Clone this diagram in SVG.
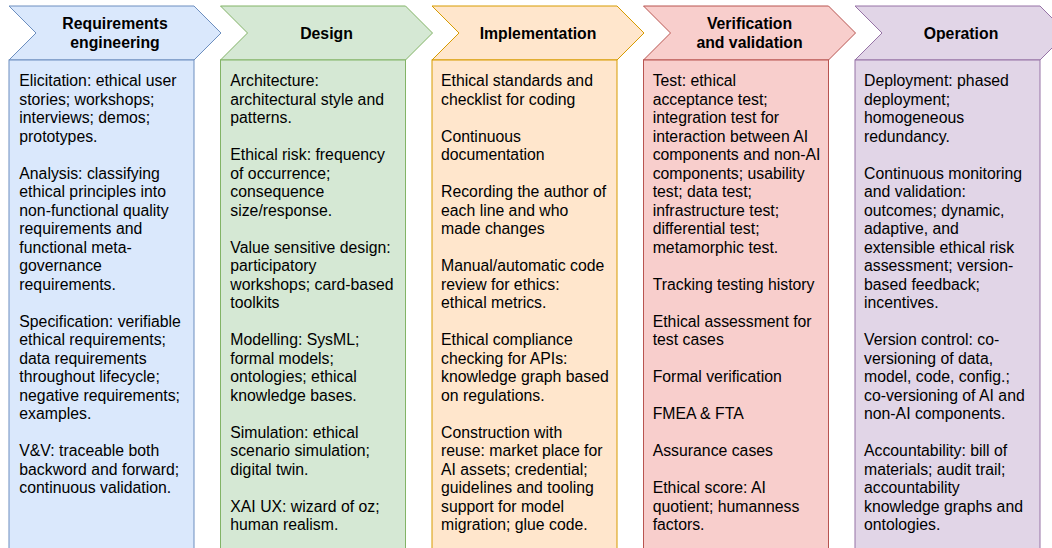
<svg xmlns="http://www.w3.org/2000/svg" width="1052" height="548" viewBox="0 0 1052 548">
<style>
.t{font-family:"Liberation Sans",Arial,Helvetica,sans-serif;font-size:15.8px;fill:#000}
.h{font-family:"Liberation Sans",Arial,Helvetica,sans-serif;font-size:15.8px;font-weight:bold;fill:#000;text-anchor:middle}
.b1{fill:#dae8fc;stroke:#6c8ebf}
.b2{fill:#d5e8d4;stroke:#82b366}
.b3{fill:#ffe6cc;stroke:#d79b00}
.b4{fill:#f8cecc;stroke:#b85450}
.b5{fill:#e1d5e7;stroke:#9673a6}
</style>
<rect width="1052" height="548" fill="#ffffff"/>
<g id="col-requirements">
<polygon class="b1" points="9,6 194,6 221,33 194,60 9,60 36,33"/>
<rect class="b1" x="9" y="60" width="185" height="500"/>
<text class="h" x="115" y="29">Requirements</text>
<text class="h" x="115" y="47.5">engineering</text>
<text class="t" x="19.3" y="86"><tspan x="19.3">Elicitation: ethical user</tspan><tspan x="19.3" dy="18.5">stories; workshops;</tspan><tspan x="19.3" dy="18.5">interviews; demos;</tspan><tspan x="19.3" dy="18.5">prototypes.</tspan></text>
<text class="t" x="19.3" y="178.5"><tspan x="19.3">Analysis: classifying</tspan><tspan x="19.3" dy="18.5">ethical principles into</tspan><tspan x="19.3" dy="18.5">non-functional quality</tspan><tspan x="19.3" dy="18.5">requirements and</tspan><tspan x="19.3" dy="18.5">functional meta-</tspan><tspan x="19.3" dy="18.5">governance</tspan><tspan x="19.3" dy="18.5">requirements.</tspan></text>
<text class="t" x="19.3" y="326.5"><tspan x="19.3">Specification: verifiable</tspan><tspan x="19.3" dy="18.5">ethical requirements;</tspan><tspan x="19.3" dy="18.5">data requirements</tspan><tspan x="19.3" dy="18.5">throughout lifecycle;</tspan><tspan x="19.3" dy="18.5">negative requirements;</tspan><tspan x="19.3" dy="18.5">examples.</tspan></text>
<text class="t" x="19.3" y="456"><tspan x="19.3">V&amp;V: traceable both</tspan><tspan x="19.3" dy="18.5">backword and forward;</tspan><tspan x="19.3" dy="18.5">continuous validation.</tspan></text>
</g>
<g id="col-design">
<polygon class="b2" points="220.5,6 405.5,6 432.5,33 405.5,60 220.5,60 247.5,33"/>
<rect class="b2" x="220.5" y="60" width="185" height="500"/>
<text class="h" x="326.5" y="38.5">Design</text>
<text class="t" x="230.3" y="86"><tspan x="230.3">Architecture:</tspan><tspan x="230.3" dy="18.5">architectural style and</tspan><tspan x="230.3" dy="18.5">patterns.</tspan></text>
<text class="t" x="230.3" y="160"><tspan x="230.3">Ethical risk: frequency</tspan><tspan x="230.3" dy="18.5">of occurrence;</tspan><tspan x="230.3" dy="18.5">consequence</tspan><tspan x="230.3" dy="18.5">size/response.</tspan></text>
<text class="t" x="230.3" y="252.5"><tspan x="230.3">Value sensitive design:</tspan><tspan x="230.3" dy="18.5">participatory</tspan><tspan x="230.3" dy="18.5">workshops; card-based</tspan><tspan x="230.3" dy="18.5">toolkits</tspan></text>
<text class="t" x="230.3" y="345"><tspan x="230.3">Modelling: SysML;</tspan><tspan x="230.3" dy="18.5">formal models;</tspan><tspan x="230.3" dy="18.5">ontologies; ethical</tspan><tspan x="230.3" dy="18.5">knowledge bases.</tspan></text>
<text class="t" x="230.3" y="437.5"><tspan x="230.3">Simulation: ethical</tspan><tspan x="230.3" dy="18.5">scenario simulation;</tspan><tspan x="230.3" dy="18.5">digital twin.</tspan></text>
<text class="t" x="230.3" y="511.5"><tspan x="230.3">XAI UX: wizard of oz;</tspan><tspan x="230.3" dy="18.5">human realism.</tspan></text>
</g>
<g id="col-implementation">
<polygon class="b3" points="432,6 617,6 644,33 617,60 432,60 459,33"/>
<rect class="b3" x="432" y="60" width="185" height="500"/>
<text class="h" x="538" y="38.5">Implementation</text>
<text class="t" x="441" y="86"><tspan x="441">Ethical standards and</tspan><tspan x="441" dy="18.5">checklist for coding</tspan></text>
<text class="t" x="441" y="141.5"><tspan x="441">Continuous</tspan><tspan x="441" dy="18.5">documentation</tspan></text>
<text class="t" x="441" y="197"><tspan x="441">Recording the author of</tspan><tspan x="441" dy="18.5">each line and who</tspan><tspan x="441" dy="18.5">made changes</tspan></text>
<text class="t" x="441" y="271"><tspan x="441">Manual/automatic code</tspan><tspan x="441" dy="18.5">review for ethics:</tspan><tspan x="441" dy="18.5">ethical metrics.</tspan></text>
<text class="t" x="441" y="345"><tspan x="441">Ethical compliance</tspan><tspan x="441" dy="18.5">checking for APIs:</tspan><tspan x="441" dy="18.5">knowledge graph based</tspan><tspan x="441" dy="18.5">on regulations.</tspan></text>
<text class="t" x="441" y="437.5"><tspan x="441">Construction with</tspan><tspan x="441" dy="18.5">reuse: market place for</tspan><tspan x="441" dy="18.5">AI assets; credential;</tspan><tspan x="441" dy="18.5">guidelines and tooling</tspan><tspan x="441" dy="18.5">support for model</tspan><tspan x="441" dy="18.5">migration; glue code.</tspan></text>
</g>
<g id="col-verification">
<polygon class="b4" points="643.5,6 828.5,6 855.5,33 828.5,60 643.5,60 670.5,33"/>
<rect class="b4" x="643.5" y="60" width="185" height="500"/>
<text class="h" x="749.5" y="29">Verification</text>
<text class="h" x="749.5" y="47.5">and validation</text>
<text class="t" x="652.7" y="86"><tspan x="652.7">Test: ethical</tspan><tspan x="652.7" dy="18.5">acceptance test;</tspan><tspan x="652.7" dy="18.5">integration test for</tspan><tspan x="652.7" dy="18.5">interaction between AI</tspan><tspan x="652.7" dy="18.5">components and non-AI</tspan><tspan x="652.7" dy="18.5">components; usability</tspan><tspan x="652.7" dy="18.5">test; data test;</tspan><tspan x="652.7" dy="18.5">infrastructure test;</tspan><tspan x="652.7" dy="18.5">differential test;</tspan><tspan x="652.7" dy="18.5">metamorphic test.</tspan></text>
<text class="t" x="652.7" y="289.5">Tracking testing history</text>
<text class="t" x="652.7" y="326.5"><tspan x="652.7">Ethical assessment for</tspan><tspan x="652.7" dy="18.5">test cases</tspan></text>
<text class="t" x="652.7" y="382">Formal verification</text>
<text class="t" x="652.7" y="419">FMEA &amp; FTA</text>
<text class="t" x="652.7" y="456">Assurance cases</text>
<text class="t" x="652.7" y="493"><tspan x="652.7">Ethical score: AI</tspan><tspan x="652.7" dy="18.5">quotient; humanness</tspan><tspan x="652.7" dy="18.5">factors.</tspan></text>
</g>
<g id="col-operation">
<polygon class="b5" points="855,6 1040,6 1067,33 1040,60 855,60 882,33"/>
<rect class="b5" x="855" y="60" width="185" height="500"/>
<text class="h" x="961" y="38.5">Operation</text>
<text class="t" x="864" y="86"><tspan x="864">Deployment: phased</tspan><tspan x="864" dy="18.5">deployment;</tspan><tspan x="864" dy="18.5">homogeneous</tspan><tspan x="864" dy="18.5">redundancy.</tspan></text>
<text class="t" x="864" y="178.5"><tspan x="864">Continuous monitoring</tspan><tspan x="864" dy="18.5">and validation:</tspan><tspan x="864" dy="18.5">outcomes; dynamic,</tspan><tspan x="864" dy="18.5">adaptive, and</tspan><tspan x="864" dy="18.5">extensible ethical risk</tspan><tspan x="864" dy="18.5">assessment; version-</tspan><tspan x="864" dy="18.5">based feedback;</tspan><tspan x="864" dy="18.5">incentives.</tspan></text>
<text class="t" x="864" y="345"><tspan x="864">Version control: co-</tspan><tspan x="864" dy="18.5">versioning of data,</tspan><tspan x="864" dy="18.5">model, code, config.;</tspan><tspan x="864" dy="18.5">co-versioning of AI and</tspan><tspan x="864" dy="18.5">non-AI components.</tspan></text>
<text class="t" x="864" y="456"><tspan x="864">Accountability: bill of</tspan><tspan x="864" dy="18.5">materials; audit trail;</tspan><tspan x="864" dy="18.5">accountability</tspan><tspan x="864" dy="18.5">knowledge graphs and</tspan><tspan x="864" dy="18.5">ontologies.</tspan></text>
</g>
<g id="connectors"></g>
</svg>
